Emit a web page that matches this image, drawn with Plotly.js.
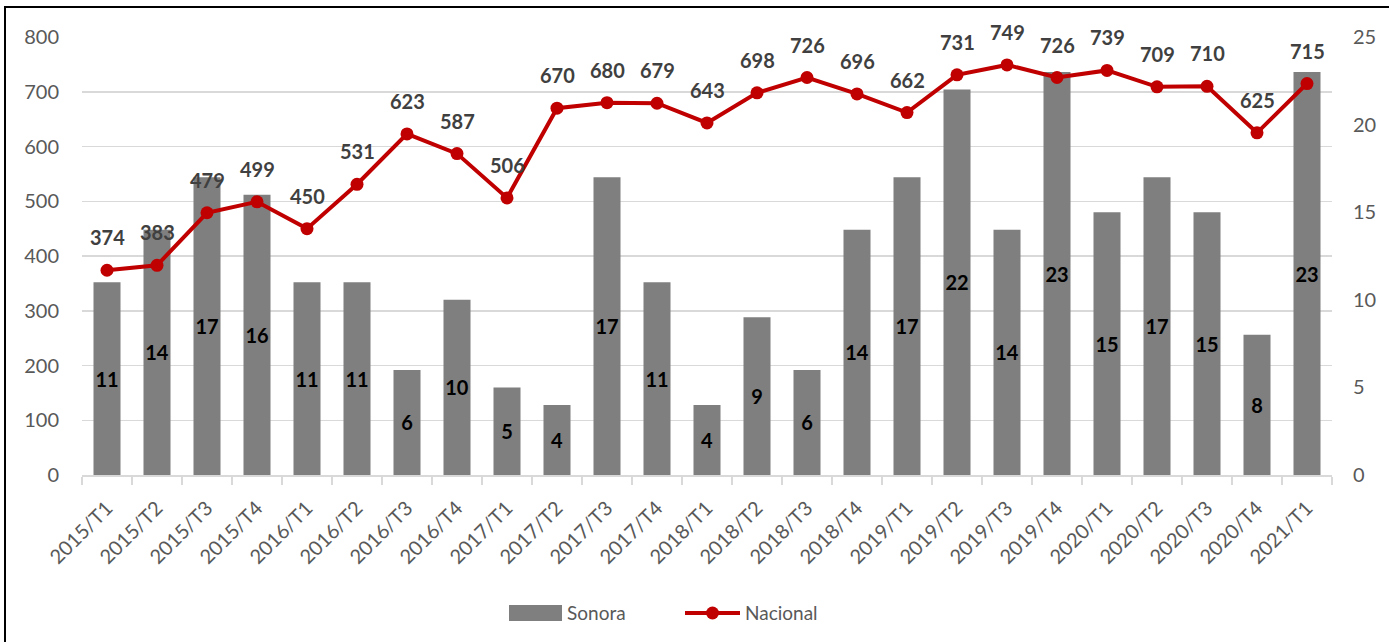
<!DOCTYPE html>
<html>
<head>
<meta charset="utf-8">
<script src="https://cdn.plot.ly/plotly-3.0.1.min.js"></script>
<style>
html,body{margin:0;padding:0;background:#fff;}
#chart{width:1389px;height:642px;}
</style>
</head>
<body>
<div id="chart"></div>
<script>
const categories = ["2015/T1","2015/T2","2015/T3","2015/T4","2016/T1","2016/T2","2016/T3","2016/T4","2017/T1","2017/T2","2017/T3","2017/T4","2018/T1","2018/T2","2018/T3","2018/T4","2019/T1","2019/T2","2019/T3","2019/T4","2020/T1","2020/T2","2020/T3","2020/T4","2021/T1"];
const sonora = [11,14,17,16,11,11,6,10,5,4,17,11,4,9,6,14,17,22,14,23,15,17,15,8,23];
const nacional = [374,383,479,499,450,531,623,587,506,670,680,679,643,698,726,696,662,731,749,726,739,709,710,625,715];

const FONT = "Lato, 'Open Sans', sans-serif";

const barTrace = {
  type: 'bar', name: 'Sonora', x: categories, y: sonora, yaxis: 'y',
  marker: {color: '#7f7f7f'},
  text: sonora.map(String), textposition: 'inside', insidetextanchor: 'middle',
  textangle: 0, constraintext: 'none',
  textfont: {family: FONT, size: 20, color: '#000000', weight: 'bold'},
  hoverinfo: 'x+y'
};
const lineTrace = {
  type: 'scatter', mode: 'lines+markers', name: 'Nacional', x: categories, y: nacional, yaxis: 'y2',
  line: {color: '#c00000', width: 4},
  marker: {color: '#c00000', size: 13}
};

const annotations = categories.map((c, i) => ({
  x: c, y: nacional[i], xref: 'x', yref: 'y2', text: String(nacional[i]),
  showarrow: false, yanchor: 'bottom', yshift: 19,
  font: {family: FONT, size: 20, color: '#404040', weight: 'bold'}
}));

const layout = {
  width: 1389, height: 642,
  margin: {l: 82, r: 57, t: 37, b: 167},
  paper_bgcolor: '#ffffff', plot_bgcolor: '#ffffff',
  font: {family: FONT, color: '#595959'},
  bargap: 0.46,
  showlegend: true,
  legend: {orientation: 'h', xref: 'container', yref: 'container', x: 0.485, xanchor: 'center', y: 0.045, yanchor: 'middle',
    font: {family: FONT, size: 19, color: '#595959'}, traceorder: 'normal'},
  xaxis: {
    type: 'category', tickangle: -45, tickfont: {family: FONT, size: 20, color: '#595959'},
    showgrid: false, showline: true, linecolor: '#d9d9d9', linewidth: 1.5,
    ticks: 'outside', tickson: 'boundaries', ticklen: 8, tickcolor: '#d9d9d9', tickwidth: 1.5,
    ticklabelstandoff: 12,
    range: [-0.5, 24.5], fixedrange: true
  },
  yaxis: {
    side: 'right', range: [0, 25], dtick: 5, showgrid: false, zeroline: false,
    tickfont: {family: FONT, size: 20, color: '#595959'}, ticklabelstandoff: 20,
    minor: {dtick: 3.125, showgrid: true, gridcolor: '#d9d9d9', gridwidth: 1.5, ticks: ''}
  },
  yaxis2: {
    overlaying: 'y', side: 'left', range: [0, 800], dtick: 100, showgrid: false, zeroline: false,
    tickfont: {family: FONT, size: 20, color: '#595959'}, ticklabelstandoff: 22
  },
  annotations: annotations,
  shapes: [{type: 'rect', xref: 'paper', yref: 'paper', x0: -0.0616, x1: 1.3, y0: -1, y1: 1.0685,
    line: {color: '#000000', width: 2}, fillcolor: 'rgba(0,0,0,0)', layer: 'above'}]
};

const gd = document.getElementById('chart');
Plotly.newPlot(gd, [barTrace, lineTrace], layout, {displayModeBar: false, staticPlot: true}).then(() => {
  try {
    const leg = gd.querySelector('g.legend');
    leg.querySelectorAll('[clip-path]').forEach(el => el.removeAttribute('clip-path'));
    const items = leg.querySelectorAll('g.traces');
    if (items.length < 2) return;
    // Sonora: wide gray rectangle
    const barPaths = items[0].querySelectorAll('.legendpoints path');
    barPaths.forEach(p => { p.setAttribute('d', 'M0,8H53V-8H0Z'); p.setAttribute('transform', 'translate(0,0)'); });
    const t0 = items[0].querySelector('text.legendtext');
    if (t0) t0.setAttribute('x', 58);
    // Nacional: long line with centered marker
    items[1].querySelectorAll('path.js-line').forEach(p => p.setAttribute('d', 'M0,0h55'));
    items[1].querySelectorAll('path.scatterpts').forEach(p => p.setAttribute('transform', 'translate(27.5,0)'));
    const t1 = items[1].querySelector('text.legendtext');
    if (t1) t1.setAttribute('x', 60);
    // position items
    const tr0 = items[0].getAttribute('transform') || 'translate(0,0)';
    const m = tr0.match(/translate\(([-\d.]+)[ ,]+([-\d.]+)\)/);
    const y0 = m ? parseFloat(m[2]) : 0;
    const x0 = m ? parseFloat(m[1]) : 0;
    items[1].setAttribute('transform', 'translate(' + (x0 + 176) + ',' + y0 + ')');
    // shift whole legend so rect starts at x=509 and centre at y=613
    const r = barPaths[0].getBoundingClientRect();
    const lt = leg.getAttribute('transform') || 'translate(0,0)';
    const lm = lt.match(/translate\(([-\d.]+)[ ,]+([-\d.]+)\)/);
    const lx = lm ? parseFloat(lm[1]) : 0, ly = lm ? parseFloat(lm[2]) : 0;
    const dx = 509 - r.left, dy = 613 - (r.top + r.height / 2);
    leg.setAttribute('transform', 'translate(' + (lx + dx) + ',' + (ly + dy) + ')');
  } catch (e) { console.error(e); }
});
</script>
</body>
</html>
